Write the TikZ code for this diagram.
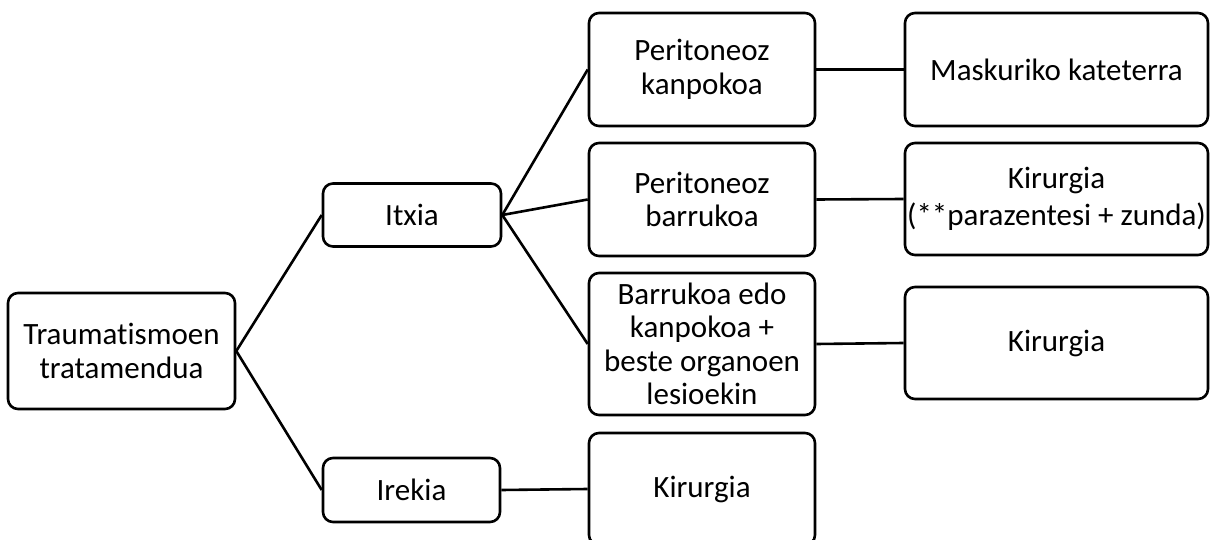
\documentclass[tikz,border=0pt]{standalone}
\usepackage{fontspec}
\setmainfont{Carlito}[Ligatures=NoCommon]
\begin{document}
\begin{tikzpicture}[x=1pt,y=-1pt,
  box/.style={draw, line width=2.6pt, rounded corners=10pt, align=center,
    inner sep=0pt, font=\fontsize{31}{33.5}\selectfont},
  link/.style={line width=2.6pt}]
\useasboundingbox (0,0) rectangle (1210,540);

% root
\node[box, minimum width=227pt, minimum height=116pt] (trauma) at (121.5,351) {Traumatismoen\\tratamendua};

% first level
\node[box, minimum width=178pt, minimum height=63pt] (itxia) at (412,215) {Itxia};
\node[box, minimum width=177pt, minimum height=64pt] (irekia) at (411.5,490) {Irekia};

% second level
\node[box, minimum width=226pt, minimum height=113pt] (kanpo) at (702,69.5) {Peritoneoz\\kanpokoa};
\node[box, minimum width=226pt, minimum height=113pt] (barru) at (702,199.5) {Peritoneoz\\barrukoa};
\node[box, minimum width=226pt, minimum height=142pt] (beste) at (702,344) {Barrukoa edo\\kanpokoa +\\beste organoen\\lesioekin};
\node[box, minimum width=226pt, minimum height=112pt] (kirirekia) at (702,489) {Kirurgia};

% treatments
\node[box, minimum width=303pt, minimum height=113pt] (maskuri) at (1056.5,69.5) {Maskuriko kateterra};
\node[box, minimum width=303pt, minimum height=112pt] (kirpara) at (1056.5,199) {Kirurgia\\[3.5pt](**parazentesi + zunda)};
\node[box, minimum width=303pt, minimum height=112pt] (kirbeste) at (1056.5,343) {Kirurgia};

% connectors
\draw[link] (trauma.east) -- (itxia.west);
\draw[link] (trauma.east) -- (irekia.west);
\draw[link] (itxia.east) -- (kanpo.west);
\draw[link] (itxia.east) -- (barru.west);
\draw[link] (itxia.east) -- (beste.west);
\draw[link] (irekia.east) -- (kirirekia.west);
\draw[link] (kanpo.east) -- (maskuri.west);
\draw[link] (barru.east) -- (kirpara.west);
\draw[link] (beste.east) -- (kirbeste.west);
\end{tikzpicture}
\end{document}
